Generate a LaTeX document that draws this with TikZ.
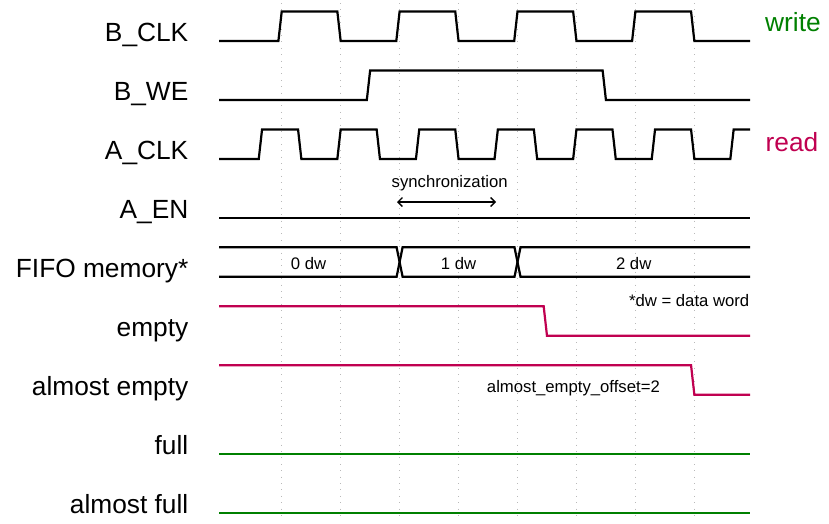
\documentclass[tikz,border=0pt]{standalone}
\usepackage{fontspec}
\setmainfont{Liberation Sans}
\usetikzlibrary{arrows.meta}
\definecolor{wgreen}{RGB}{0,128,0}
\definecolor{rred}{RGB}{192,0,80}
\newcommand{\X}[1]{281.7+58.95*(#1)}
\tikzset{
  sig/.style={line width=2.2pt, line join=miter},
  gridline/.style={line width=0.7pt, gray!55, dash pattern=on 0.8pt off 5.6pt},
  biglabel/.style={inner sep=0pt, anchor=base east, font=\fontsize{26.3}{30}\selectfont},
  sidelabel/.style={inner sep=0pt, anchor=base west, font=\fontsize{26.3}{30}\selectfont},
  smalltext/.style={inner sep=0pt, font=\fontsize{16.7}{20}\selectfont},
  syncarrow/.style={line width=1.3pt, {Straight Barb[length=4.5pt,width=9pt]}-{Straight Barb[length=4.5pt,width=9pt]}}
}
\begin{document}
\begin{tikzpicture}[x=1pt, y=-1pt]
\useasboundingbox (0,0) rectangle (829,523);
% grid
\foreach \k in {0,...,7} {
  \draw[gridline] ({\X{\k}},3) -- ({\X{\k}},521);
}
% labels
\node[biglabel] (lbclk) at (188.5,41.7) {B\_CLK};
\node[biglabel] (lbwe) at (188.5,100.6) {B\_WE};
\node[biglabel] (laclk) at (188.5,159.6) {A\_CLK};
\node[biglabel] (laen) at (188.5,218.5) {A\_EN};
\node[biglabel] (lfifo) at (188.5,277.5) {FIFO memory*};
\node[biglabel] (lempty) at (188.5,336.4) {empty};
\node[biglabel] (lae) at (188.5,395.4) {almost empty};
\node[biglabel] (lfull) at (188.5,454.3) {full};
\node[biglabel] (laf) at (188.5,513.3) {almost full};
\node[sidelabel, text=wgreen] (lwrite) at (765,31) {write};
\node[sidelabel, text=rred] (lread) at (765.5,151) {read};
% B_CLK
\draw[sig] (219,41) \foreach \k in {0,2,4,6} {
  -- ({\X{\k}-3.3},41) -- ({\X{\k}},11.5) -- ({\X{\k+1}-3.3},11.5) -- ({\X{\k+1}},41)
} -- (750,41);
% B_WE
\draw[sig] (219,99.95) -- ({\X{1.5}-3.3},99.95) -- ({\X{1.5}},70.45)
  -- ({\X{5.5}-3.3},70.45) -- ({\X{5.5}},99.95) -- (750,99.95);
% A_CLK
\draw[sig] (219,158.9) \foreach \k in {0,...,5} {
  -- ({\X{-1/3+4/3*\k}-3.3},158.9) -- ({\X{-1/3+4/3*\k}},129.4)
  -- ({\X{1/3+4/3*\k}-3.3},129.4) -- ({\X{1/3+4/3*\k}},158.9)
} -- ({\X{23/3}-3.3},158.9) -- ({\X{23/3}},129.4) -- (750,129.4);
% A_EN
\draw[sig] (219,217.85) -- (750,217.85);
% FIFO bus
\draw[sig] (219,247.3) -- ({\X{2}-3},247.3) -- ({\X{2}+3},276.8) -- ({\X{4}-3},276.8)
  -- ({\X{4}+3},247.3) -- (750,247.3);
\draw[sig] (219,276.8) -- ({\X{2}-3},276.8) -- ({\X{2}+3},247.3) -- ({\X{4}-3},247.3)
  -- ({\X{4}+3},276.8) -- (750,276.8);
\node[smalltext, anchor=base] (d0) at (308.6,269.3) {0 dw};
\node[smalltext, anchor=base] (d1) at (458.5,269.3) {1 dw};
\node[smalltext, anchor=base] (d2) at (633.7,269.3) {2 dw};
\node[smalltext, anchor=base east] (dwnote) at (749.5,306) {*dw = data word};
% empty
\draw[sig, rred] (219,306.25) -- ({\X{4.5}-3.3},306.25) -- ({\X{4.5}},335.75) -- (750,335.75);
% almost empty
\draw[sig, rred] (219,365.2) -- ({\X{7}-3.3},365.2) -- ({\X{7}},394.7) -- (750,394.7);
\node[smalltext, anchor=base east] (aeo) at (660,392.3) {almost\_empty\_offset=2};
% full, almost full
\draw[sig, wgreen] (219,453.65) -- (750,453.65);
\draw[sig, wgreen] (219,512.6) -- (750,512.6);
% synchronization
\node[smalltext, anchor=base] (synctext) at (449.7,187) {synchronization};
\coordinate (s1) at (397,202);
\coordinate (s2) at (496,202);
\draw[syncarrow] (s1) -- (s2);
\end{tikzpicture}
\end{document}
